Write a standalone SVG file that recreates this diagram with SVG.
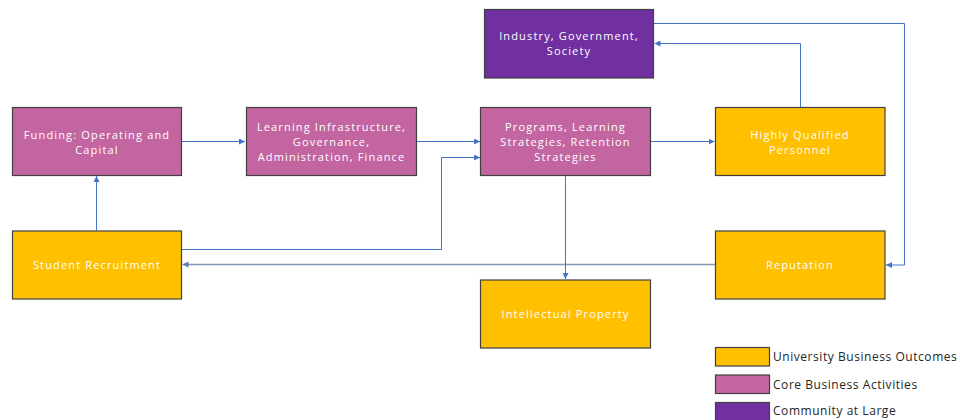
<svg xmlns="http://www.w3.org/2000/svg" width="960" height="420" viewBox="0 0 960 420">
<defs>
<marker id="arr" viewBox="0 0 8 8" refX="8" refY="4" markerWidth="6" markerHeight="6" markerUnits="userSpaceOnUse" orient="auto">
<path d="M0,0 L8,4 L0,8 z" fill="#4472C4"/>
</marker>
<marker id="arrg" viewBox="0 0 8 8" refX="8" refY="4" markerWidth="6" markerHeight="6" markerUnits="userSpaceOnUse" orient="auto">
<path d="M0,0 L8,4 L0,8 z" fill="#5B79B5"/>
</marker>
</defs>
<style>
.box{stroke:#404040;stroke-width:1.2}
.y{fill:#FFC000}
.p{fill:#C265A0}
.v{fill:#7030A0}
.t{font-family:"Open Sans","DejaVu Sans",sans-serif;font-size:11px;letter-spacing:1.15px;fill:#FFFFFF;text-anchor:middle}
.lg{font-family:"Open Sans","DejaVu Sans",sans-serif;font-size:12px;letter-spacing:0.55px;fill:#262626}
.c{fill:none;stroke:#4472C4;stroke-width:1}
.cg{fill:none;stroke:#8497B8;stroke-width:1.5}
</style>
<rect width="960" height="420" fill="#FFFFFF"/>
<g id="connectors">
<path class="c" d="M181.5,141.5 H245" marker-end="url(#arr)"/>
<path class="c" d="M417,141.5 H480" marker-end="url(#arr)"/>
<path class="c" d="M181.5,249.5 H441.5 V157.5 H480" marker-end="url(#arr)"/>
<path class="c" d="M96.5,230.5 V176" marker-end="url(#arr)"/>
<path class="cg" d="M715,264.5 H182.5" marker-end="url(#arrg)"/>
<path class="c" d="M565.5,175.5 V279" marker-end="url(#arr)"/>
<path class="c" d="M650.5,141.5 H714.5" marker-end="url(#arr)"/>
<path class="c" d="M800.5,107.5 V43.5 H654.5" marker-end="url(#arr)"/>
<path class="c" d="M654,23.5 H904.5 V265 H886" marker-end="url(#arr)"/>
</g>
<g id="funding">
<rect class="box p" x="12.5" y="107.5" width="169" height="68"/>
<text class="t" x="97" y="138.5">Funding:  Operating and</text>
<text class="t" x="97" y="153.5">Capital</text>
</g>
<g id="learning-infrastructure">
<rect class="box p" x="246.5" y="107.5" width="170" height="68"/>
<text class="t" x="331.5" y="130.5">Learning Infrastructure,</text>
<text class="t" x="331.5" y="145.5">Governance,</text>
<text class="t" x="331.5" y="160.5">Administration,  Finance</text>
</g>
<g id="programs">
<rect class="box p" x="480.5" y="107.5" width="170" height="68"/>
<text class="t" x="565.5" y="130.5">Programs, Learning</text>
<text class="t" x="565.5" y="145.5">Strategies, Retention</text>
<text class="t" x="565.5" y="160.5">Strategies</text>
</g>
<g id="industry">
<rect class="box v" x="484.5" y="9.5" width="169" height="68.5"/>
<text class="t" x="569" y="40">Industry,  Government,</text>
<text class="t" x="569" y="55">Society</text>
</g>
<g id="hqp">
<rect class="box y" x="715.5" y="107.5" width="169.5" height="68"/>
<text class="t" x="800" y="138.5">Highly Qualified</text>
<text class="t" x="800" y="153.5">Personnel</text>
</g>
<g id="student-recruitment">
<rect class="box y" x="12.5" y="231" width="169" height="68"/>
<text class="t" x="97" y="268.5">Student Recruitment</text>
</g>
<g id="reputation">
<rect class="box y" x="715.5" y="231" width="169.5" height="68"/>
<text class="t" x="800" y="269">Reputation</text>
</g>
<g id="intellectual-property">
<rect class="box y" x="480.5" y="280" width="170" height="68"/>
<text class="t" x="565.5" y="318">Intellectual Property</text>
</g>
<g id="legend">
<rect class="box y" x="715.5" y="347.5" width="54" height="18.5"/>
<text class="lg" x="773" y="361">University Business Outcomes</text>
<rect class="box p" x="715.5" y="375" width="54" height="18.5"/>
<text class="lg" x="773" y="388.5">Core Business Activities</text>
<rect class="box v" x="715.5" y="402.5" width="54" height="18.5"/>
<text class="lg" x="773" y="415">Community at Large</text>
</g>
</svg>
